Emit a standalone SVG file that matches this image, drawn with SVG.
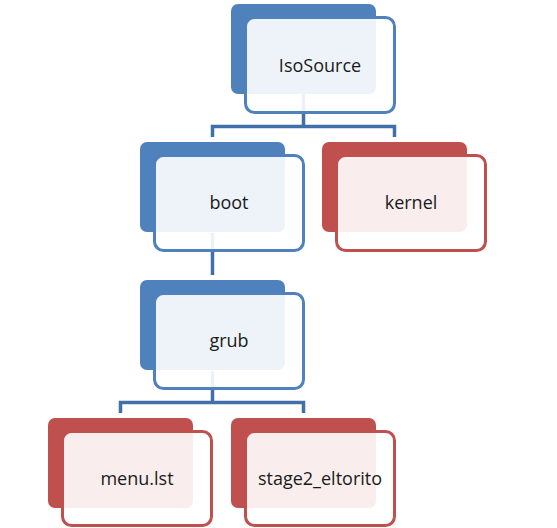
<svg xmlns="http://www.w3.org/2000/svg" width="557" height="528" viewBox="0 0 557 528">
<style>
.bb{fill:#4F81BD}
.br{fill:#C0504D}
.fb{fill:#FFFFFF;fill-opacity:0.9;stroke:#4F81BD;stroke-width:3}
.fr{fill:#FFFFFF;fill-opacity:0.9;stroke:#C0504D;stroke-width:3}
.t{font-family:"Open Sans","Noto Sans",sans-serif;font-size:18px;fill:#1A1A1A;text-anchor:middle}
.c{fill:none;stroke:#4170A8;stroke-width:3.5}
</style>
<rect width="557" height="528" fill="#FFFFFF"/>
<g id="connectors">
<path class="c" d="M303.5,94 V126.5 M212.5,137 V126.5 H394.5 V137"/>
<path class="c" d="M212.5,233 V275"/>
<path class="c" d="M212.5,371 V402.5 M120.5,413 V402.5 H303.5 V413"/>
</g>
<g id="IsoSource">
<rect class="bb" x="231" y="4" width="145" height="90" rx="7"/>
<rect class="fb" x="245.5" y="17.5" width="149" height="95" rx="9"/>
<text class="t" x="320" y="72">IsoSource</text>
</g>
<g id="boot">
<rect class="bb" x="140" y="142" width="145" height="90" rx="7"/>
<rect class="fb" x="154.5" y="155.5" width="149" height="95" rx="9"/>
<text class="t" x="229" y="209">boot</text>
</g>
<g id="kernel">
<rect class="br" x="322" y="142" width="145" height="90" rx="7"/>
<rect class="fr" x="336.5" y="155.5" width="149" height="95" rx="9"/>
<text class="t" x="411" y="209">kernel</text>
</g>
<g id="grub">
<rect class="bb" x="140" y="280" width="145" height="90" rx="7"/>
<rect class="fb" x="154.5" y="293.5" width="149" height="95" rx="9"/>
<text class="t" x="229" y="347">grub</text>
</g>
<g id="menu.lst">
<rect class="br" x="48" y="418" width="145" height="90" rx="7"/>
<rect class="fr" x="62.5" y="431.5" width="149" height="94" rx="9"/>
<text class="t" x="137" y="485">menu.lst</text>
</g>
<g id="stage2_eltorito">
<rect class="br" x="231" y="418" width="145" height="90" rx="7"/>
<rect class="fr" x="245.5" y="431.5" width="149" height="94" rx="9"/>
<text class="t" x="320" y="485">stage2_eltorito</text>
</g>
</svg>
